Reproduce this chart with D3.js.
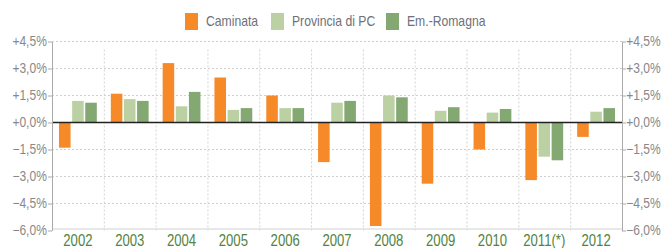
<!DOCTYPE html>
<html>
<head>
<meta charset="utf-8">
<script src="https://cdn.jsdelivr.net/npm/d3@7"></script>
<style>
  html, body { margin: 0; padding: 0; background: #fff; }
  svg { display: block; }
</style>
</head>
<body>
<div id="chart"></div>
<script>
const years = ['2002', '2003', '2004', '2005', '2006', '2007', '2008', '2009', '2010', '2011(*)', '2012']
const seriesNames = ['Caminata', 'Provincia di PC', 'Em.-Romagna']
const caminata = [-1.4, 1.6, 3.3, 2.5, 1.5, -2.2, -5.75, -3.4, -1.5, -3.2, -0.8]
const provincia = [1.2, 1.3, 0.9, 0.7, 0.8, 1.1, 1.5, 0.65, 0.55, -1.9, 0.6]
const romagna = [1.1, 1.2, 1.7, 0.8, 0.8, 1.2, 1.4, 0.85, 0.75, -2.1, 0.8]
const yTicks = [4.5, 3.0, 1.5, 0, -1.5, -3.0, -4.5, -6.0]
const colors = ['#f68a28', '#bcd1a3', '#83a872']

const width = 661
const height = 248
const margin = { top: 41.5, right: 39, bottom: 17.5, left: 52 }
const font = '"Liberation Sans", Arial, sans-serif'
const squeeze = 0.82 // the original uses a condensed face

const values = [caminata, provincia, romagna]
const data = years.map((year, i) => ({
  year,
  vals: seriesNames.map((name, s) => ({ name, s, v: values[s][i] }))
}))

const svg = d3.select('#chart')
  .append('svg')
  .attr('width', width)
  .attr('height', height)

const x = d3.scaleBand()
  .domain(years)
  .range([margin.left, width - margin.right])

const xInner = d3.scaleBand()
  .domain(seriesNames)
  .range([7, x.bandwidth() - 7])
  .paddingInner(0.12)

const y = d3.scaleLinear()
  .domain([-6, 4.5])
  .range([height - margin.bottom, margin.top])

const fmt = d => (d >= 0 ? '+' : '') + d3.format('.1f')(d).replace('.', ',') + '%'

// grid
svg.append('g')
  .selectAll('line')
  .data(yTicks.filter(d => d !== 0 && d !== -6))
  .join('line')
  .attr('x1', margin.left)
  .attr('x2', width - margin.right)
  .attr('y1', d => y(d))
  .attr('y2', d => y(d))
  .attr('stroke', '#cfcfcf')
  .attr('stroke-dasharray', '2,2')

svg.append('g')
  .selectAll('line')
  .data(years.slice(1))
  .join('line')
  .attr('x1', d => x(d) + 0.5)
  .attr('x2', d => x(d) + 0.5)
  .attr('y1', margin.top + 8)
  .attr('y2', y(-6))
  .attr('stroke', '#d4d4d4')
  .attr('stroke-dasharray', '2,2')

// bottom line
svg.append('line')
  .attr('x1', margin.left)
  .attr('x2', width - margin.right)
  .attr('y1', y(-6) - 1.5)
  .attr('y2', y(-6) - 1.5)
  .attr('stroke', '#d0d0d0')

// bars
svg.append('g')
  .selectAll('g')
  .data(data)
  .join('g')
  .attr('transform', d => `translate(${x(d.year)},0)`)
  .selectAll('rect')
  .data(d => d.vals)
  .join('rect')
  .attr('x', d => xInner(d.name))
  .attr('width', xInner.bandwidth())
  .attr('y', d => y(Math.max(0, d.v)))
  .attr('height', d => Math.abs(y(d.v) - y(0)))
  .attr('fill', d => colors[d.s])

// zero line
svg.append('line')
  .attr('x1', margin.left)
  .attr('x2', width - margin.right)
  .attr('y1', y(0))
  .attr('y2', y(0))
  .attr('stroke', '#222')
  .attr('stroke-width', 1.6)

// axes
const styleAxis = g => {
  g.select('.domain').attr('stroke', '#aaa')
  g.selectAll('.tick line').attr('stroke', '#aaa')
  g.selectAll('.tick text')
    .attr('fill', '#888')
    .attr('font-family', font)
    .attr('font-size', '14px')
    .attr('transform', 'scale(0.86,1)')
}

svg.append('g')
  .attr('transform', `translate(${margin.left},0)`)
  .call(d3.axisLeft(y).tickValues(yTicks).tickFormat(fmt).tickSize(4).tickSizeOuter(0).tickPadding(2))
  .call(styleAxis)

svg.append('g')
  .attr('transform', `translate(${width - margin.right},0)`)
  .call(d3.axisRight(y).tickValues(yTicks).tickFormat(fmt).tickSize(4).tickSizeOuter(0).tickPadding(1))
  .call(styleAxis)

// year labels
svg.append('g')
  .selectAll('text')
  .data(years)
  .join('text')
  .attr('transform', d => `translate(${x(d) + x.bandwidth() / 2},${height - 2}) scale(${squeeze},1)`)
  .attr('text-anchor', 'middle')
  .attr('font-family', font)
  .attr('font-size', '16px')
  .attr('fill', '#53833f')
  .text(d => d)

// legend
const legendX = [185, 271, 386]
const legend = svg.append('g')
  .selectAll('g')
  .data(seriesNames)
  .join('g')
  .attr('transform', (d, i) => `translate(${legendX[i]},13)`)

legend.append('rect')
  .attr('width', 13)
  .attr('height', 17)
  .attr('fill', (d, i) => colors[i])

legend.append('text')
  .attr('transform', `translate(21,13) scale(${squeeze + 0.02},1)`)
  .attr('font-family', font)
  .attr('font-size', '14.5px')
  .attr('fill', '#6e707a')
  .text(d => d)
</script>
</body>
</html>
